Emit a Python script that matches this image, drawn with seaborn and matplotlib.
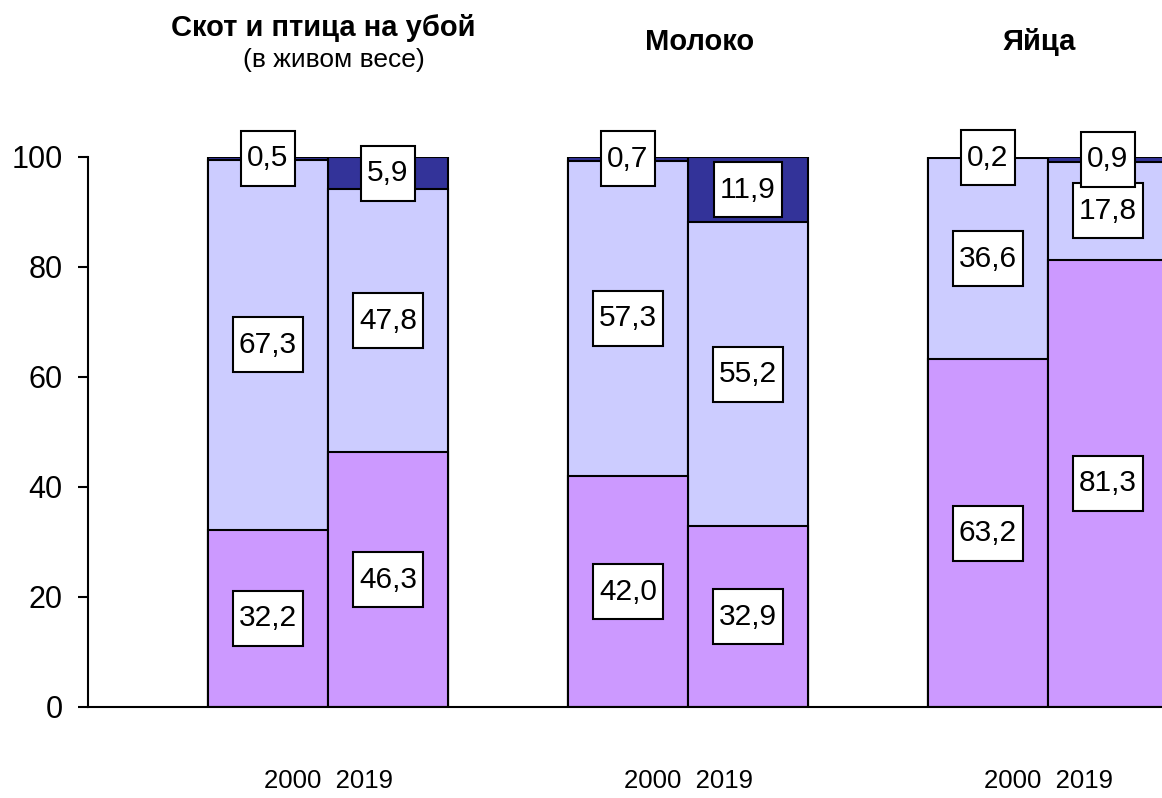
import numpy as np
import pandas as pd
import seaborn as sns
import matplotlib.pyplot as plt
import matplotlib.transforms as mtransforms
from matplotlib.path import Path

# Структура производства по категориям хозяйств, %
groups = ['Скот и птица на убой', 'Молоко', 'Яйца']
years = ['2000', '2019']
bottom_vals = [32.2, 46.3, 42.0, 32.9, 63.2, 81.3]   # нижний сегмент
middle_vals = [67.3, 47.8, 57.3, 55.2, 36.6, 17.8]   # средний сегмент
top_vals = [0.5, 5.9, 0.7, 11.9, 0.2, 0.9]           # верхний сегмент
bar_pos = [1, 2, 4, 5, 7, 8]
y_ticks = [0, 20, 40, 60, 80, 100]

colors = ['#CC99FF', '#CCCCFF', '#333399']

sns.set_style('ticks')
plt.rcParams['font.family'] = ['Liberation Sans', 'DejaVu Sans']
plt.rcParams.update({'text.color': 'black', 'xtick.color': 'black', 'ytick.color': 'black',
                     'axes.labelcolor': 'black'})

df = pd.DataFrame({'pos': bar_pos, 'b': bottom_vals, 'm': middle_vals, 't': top_vals})
df['c1'] = df['b']
df['c2'] = df['b'] + df['m']
df['c3'] = df['c2'] + df['t']

fig = plt.figure(figsize=(11.62, 7.98), dpi=100)
ax = fig.add_axes([88 / 1162, 91 / 798, 1 - 88 / 1162, 550 / 798])

# stacked bars: draw cumulative totals from the top layer down
for col, c in zip(['c3', 'c2', 'c1'], colors[::-1]):
    sns.barplot(data=df, x='pos', y=col, native_scale=True, orient='x', width=1,
                color=c, saturation=1, edgecolor='black', linewidth=1.5,
                errorbar=None, ax=ax)


def label_box(x0, y0, width, height, mutation_size):
    # rectangle with more padding top/bottom than left/right
    px = 0.2 * mutation_size
    py = 0.45 * mutation_size
    x0, y0 = x0 - px, y0 - py
    x1, y1 = x0 + width + 2 * px, y0 + height + 2 * py
    return Path([(x0, y0), (x1, y0), (x1, y1), (x0, y1), (x0, y0)], closed=True)


box = dict(boxstyle=label_box, facecolor='white', edgecolor='black', linewidth=1.5)
for _, r in df.iterrows():
    for val, lo in [(r['b'], 0), (r['m'], r['c1']), (r['t'], r['c2'])]:
        ax.text(r['pos'], lo + val / 2, f'{val:.1f}'.replace('.', ','), ha='center', va='center',
                fontsize=21.5, bbox=box, zorder=5, clip_on=False)

ax.set_xlim(-0.5, 8.45)
ax.set_ylim(0, 100)
ax.set_yticks(y_ticks)
ax.tick_params(axis='y', labelsize=22, length=7.2, width=1.5, direction='out', pad=11)

group_centers = [1.5, 4.5, 7.5]
ax.set_xticks(group_centers)
ax.set_xticklabels(['  '.join(years)] * 3, fontsize=18.5)
ax.tick_params(axis='x', length=0, pad=45)
ax.set_xlabel('')
ax.set_ylabel('')

sns.despine(ax=ax)
for s in ['left', 'bottom']:
    ax.spines[s].set_linewidth(1.5)
    ax.spines[s].set_color('black')

trans = mtransforms.blended_transform_factory(ax.transData, ax.transAxes)
ax.text(group_centers[0] - 0.04, 1.22, groups[0], transform=trans, ha='center', va='baseline',
        fontsize=21, fontweight='bold')
ax.text(group_centers[0] + 0.05, 1.1636, '(в живом весе)', transform=trans, ha='center',
        va='baseline', fontsize=19)
ax.text(group_centers[1] + 0.1, 1.1945, groups[1], transform=trans, ha='center', va='baseline',
        fontsize=21, fontweight='bold')
ax.text(group_centers[2] - 0.07, 1.1945, groups[2], transform=trans, ha='center', va='baseline',
        fontsize=21, fontweight='bold')

fig.savefig('out.png', dpi=100)
